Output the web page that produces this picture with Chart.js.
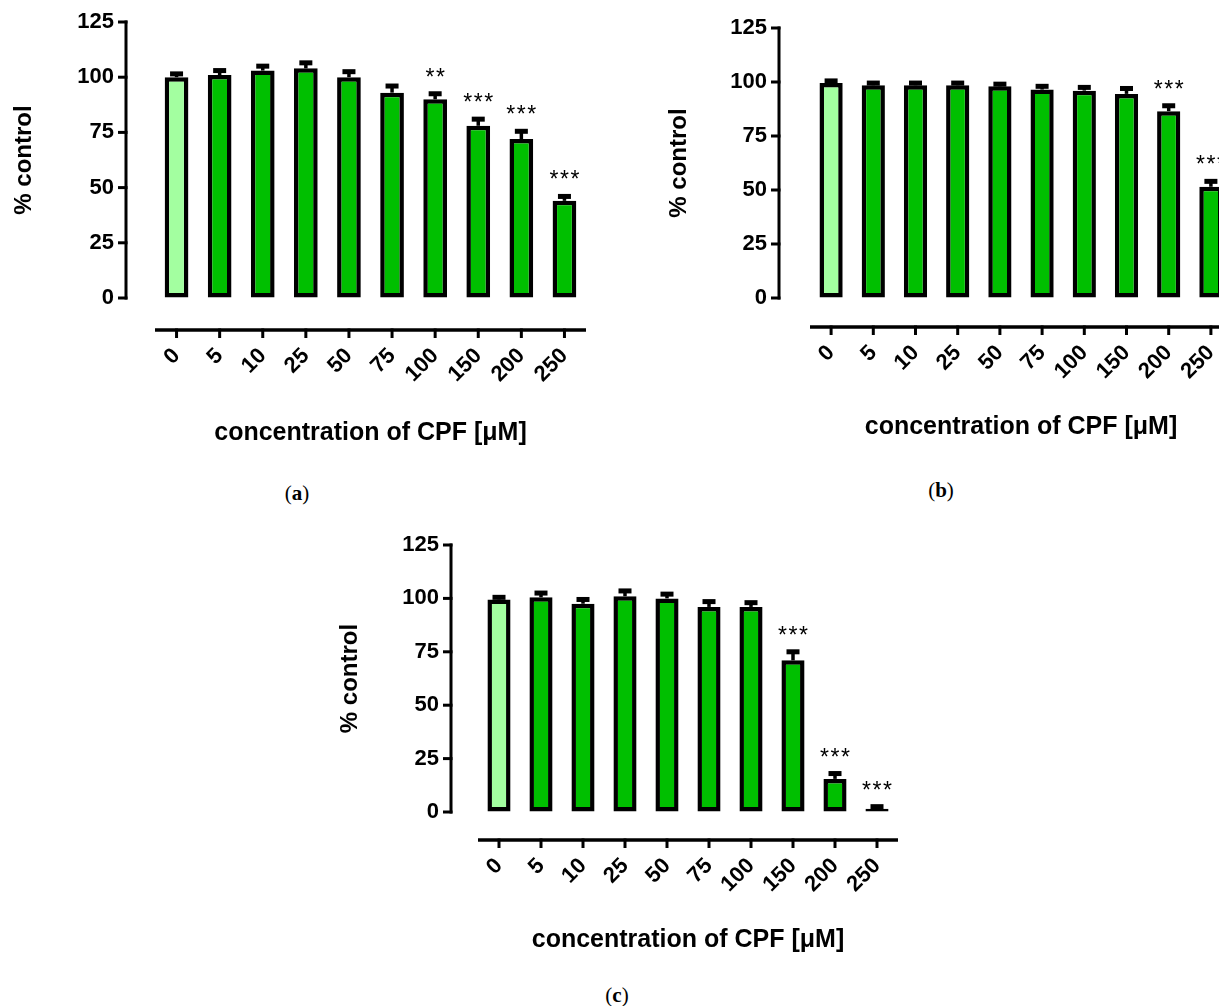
<!DOCTYPE html>
<html>
<head>
<meta charset="utf-8">
<script src="https://cdn.jsdelivr.net/npm/chart.js@4.4.1/dist/chart.umd.min.js"></script>
<style>
html,body{margin:0;padding:0;background:#fff;overflow:hidden;}
#page{position:relative;width:1219px;height:1006px;overflow:hidden;background:#fff;}
canvas{position:absolute;}
.cap{position:absolute;font-family:'Liberation Serif','DejaVu Serif',serif;font-size:21px;color:#000;transform:translate(-50%,-50%);white-space:nowrap;}
</style>
</head>
<body>
<div id="page">
  <canvas id="chartA"></canvas>
  <canvas id="chartB"></canvas>
  <canvas id="chartC"></canvas>
  <div class="cap" style="left:297px;top:493px">(<b>a</b>)</div>
  <div class="cap" style="left:941px;top:490px">(<b>b</b>)</div>
  <div class="cap" style="left:617px;top:995px">(<b>c</b>)</div>
</div>
<script>
// data
const categories = ['0', '5', '10', '25', '50', '75', '100', '150', '200', '250'];
const yTicks = [0, 25, 50, 75, 100, 125];

const valuesA = [100, 101, 103, 104, 100, 93, 90, 78, 72, 44];
const errorsA = [1.5, 2, 2, 2.5, 2.5, 3, 2.5, 3, 3.5, 2];
const starsA  = ['', '', '', '', '', '', '**', '***', '***', '***'];

const valuesB = [99.5, 98.5, 98.5, 98.5, 98, 96.5, 96, 94.5, 86.5, 51.5];
const errorsB = [1, 1, 1, 1, 1, 1.5, 1.5, 2.5, 2.5, 2.5];
const starsB  = ['', '', '', '', '', '', '', '', '***', '***'];

const valuesC = [99.5, 100.5, 97.5, 101, 100, 96, 96, 71, 15.5, 1.5];
const errorsC = [1, 2, 2, 2.5, 2, 2.5, 2, 4, 2.5, 1];
const starsC  = ['', '', '', '', '', '', '', '***', '***', '***'];

const xTitle = 'concentration of CPF [μM]';
const yTitle = '% control';

const FONT = "'Liberation Sans', Arial, sans-serif";
const green = '#00bf00';
const lightGreen = '#a3ffa0';

// error bars, stars and the detached PRISM-style axes
const prismAxes = {
  id: 'prismAxes',
  afterDatasetsDraw(chart, args, opts) {
    const {ctx, chartArea, scales: {x, y}} = chart;
    const meta = chart.getDatasetMeta(0);
    const values = chart.data.datasets[0].data;
    ctx.save();
    ctx.fillStyle = '#000';
    ctx.strokeStyle = '#000';

    meta.data.forEach((bar, i) => {
      const top = y.getPixelForValue(values[i] + opts.errors[i]);
      ctx.lineWidth = 3.5;
      ctx.beginPath();
      ctx.moveTo(bar.x, bar.y);
      ctx.lineTo(bar.x, top);
      ctx.stroke();
      ctx.fillRect(bar.x - 6.5, top - 2.5, 13, 5);

      const s = opts.stars[i];
      if (s) {
        ctx.font = '23px ' + FONT;
        ctx.textAlign = 'center';
        ctx.textBaseline = 'alphabetic';
        const n = s.length;
        for (let k = 0; k < n; k++) {
          ctx.fillText('*', bar.x + (k - (n - 1) / 2) * 10.5, top - 9);
        }
      }
    });

    // y axis
    const ax = opts.yAxisX;
    ctx.lineWidth = 3;
    ctx.beginPath();
    ctx.moveTo(ax, y.getPixelForValue(yTicks[yTicks.length - 1]) - 1.5);
    ctx.lineTo(ax, y.getPixelForValue(yTicks[0]) + 1.5);
    ctx.stroke();
    yTicks.forEach(v => {
      const py = y.getPixelForValue(v);
      ctx.beginPath();
      ctx.moveTo(ax - 8, py);
      ctx.lineTo(ax + 1.5, py);
      ctx.stroke();
    });

    // x axis
    const ay = opts.xAxisY;
    ctx.lineWidth = 3.5;
    ctx.beginPath();
    ctx.moveTo(chartArea.left, ay);
    ctx.lineTo(chartArea.right, ay);
    ctx.stroke();
    ctx.lineWidth = 3;
    categories.forEach((c, i) => {
      const px = x.getPixelForValue(i);
      ctx.beginPath();
      ctx.moveTo(px, ay - 1.5);
      ctx.lineTo(px, ay + 8);
      ctx.stroke();
    });
    ctx.restore();
  }
};

function makePanel(id, box, area, yAxisX, xAxisY, xTitleY, yTitleX, values, errors, stars) {
  const cv = document.getElementById(id);
  cv.width = box.w;
  cv.height = box.h;
  cv.style.left = box.x + 'px';
  cv.style.top = box.y + 'px';
  const bottomEdge = box.y + box.h;

  return new Chart(cv, {
    type: 'bar',
    data: {
      labels: categories,
      datasets: [{
        data: values,
        backgroundColor: categories.map((c, i) => i === 0 ? lightGreen : green),
        borderColor: '#000',
        borderWidth: 4.5,
        borderSkipped: false,
        categoryPercentage: 1,
        barPercentage: 0.55
      }]
    },
    options: {
      responsive: false,
      animation: false,
      devicePixelRatio: 1,
      layout: { padding: { left: 0, top: area.t - box.y, right: box.x + box.w - area.r, bottom: 0 } },
      plugins: {
        legend: { display: false },
        tooltip: { enabled: false },
        prismAxes: { errors: errors, stars: stars, yAxisX: yAxisX - box.x, xAxisY: xAxisY - box.y }
      },
      scales: {
        x: {
          offset: true,
          border: { display: false },
          grid: { display: true, drawOnChartArea: false, color: 'transparent', tickColor: 'transparent', tickLength: xAxisY - area.b + 8 },
          ticks: { color: '#000', font: { family: FONT, weight: 'bold', size: 22 }, minRotation: 45, maxRotation: 45, autoSkip: false, padding: 5 },
          title: { display: true, text: xTitle, color: '#000', font: { family: FONT, weight: 'bold', size: 25 },
                   padding: { top: 0, bottom: bottomEdge - xTitleY - 15 } },
          afterFit(s) { s.height = bottomEdge - area.b; }
        },
        y: {
          min: yTicks[0],
          max: yTicks[yTicks.length - 1],
          border: { display: false },
          grid: { display: true, drawOnChartArea: false, color: 'transparent', tickColor: 'transparent', tickLength: area.l - yAxisX + 8 },
          ticks: { color: '#000', font: { family: FONT, weight: 'bold', size: 22 }, padding: 4, stepSize: 25 },
          afterBuildTicks(s) { s.ticks = yTicks.map(v => ({ value: v })); },
          title: { display: true, text: yTitle, color: '#000', font: { family: FONT, weight: 'bold', size: 24 },
                   padding: { top: yTitleX - box.x - 14.4, bottom: 0 } },
          afterFit(s) { s.width = area.l - box.x; }
        }
      }
    },
    plugins: [prismAxes]
  });
}

makePanel('chartA', {x: 0, y: 0, w: 620, h: 470}, {l: 155, r: 586, t: 22, b: 298}, 126, 330, 433, 24, valuesA, errorsA, starsA);
makePanel('chartB', {x: 640, y: 0, w: 600, h: 470}, {l: 810, r: 1232, t: 28, b: 298}, 779, 327, 427, 679, valuesB, errorsB, starsB);
makePanel('chartC', {x: 320, y: 515, w: 620, h: 455}, {l: 478, r: 898, t: 545, b: 812}, 451, 840, 940, 350, valuesC, errorsC, starsC);
</script>
</body>
</html>
